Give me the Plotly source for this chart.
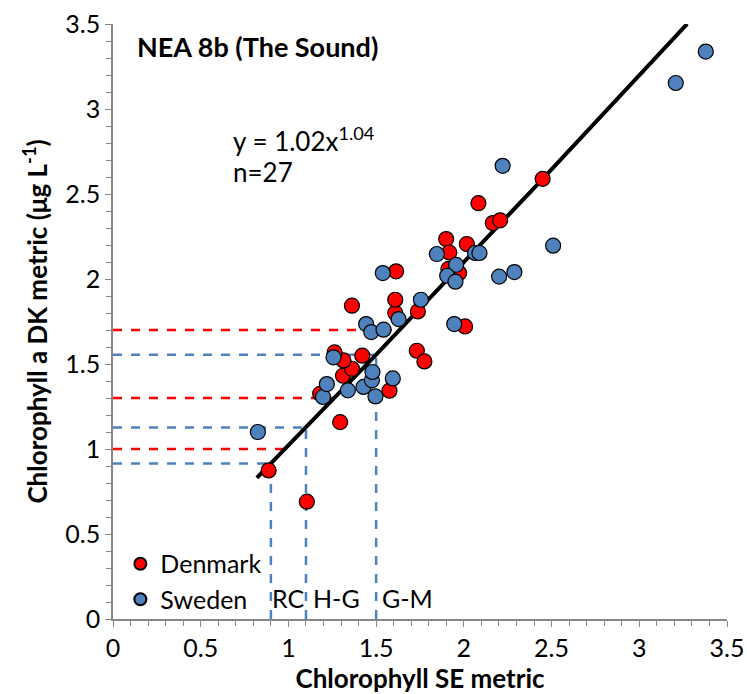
import plotly.graph_objects as go
import numpy as np

# Denmark (red) points: Chlorophyll SE metric (x), DK metric (y)
dk_x = [0.887, 1.105, 1.295, 1.181, 1.311, 1.362, 1.314, 1.263, 1.421, 1.362,
        1.576, 1.609, 1.609, 1.614, 1.738, 1.732, 1.775, 1.899, 1.917, 2.017,
        1.912, 1.973, 2.083, 2.165, 2.207, 2.449, 2.007]
dk_y = [0.874, 0.690, 1.158, 1.325, 1.431, 1.472, 1.521, 1.568, 1.549, 1.843,
        1.343, 1.800, 1.878, 2.045, 1.809, 1.578, 1.515, 2.235, 2.156, 2.206,
        2.059, 2.035, 2.446, 2.329, 2.345, 2.589, 1.721]

# Sweden (blue) points
se_x = [0.826, 1.197, 1.219, 1.257, 1.339, 1.428, 1.476, 1.479, 1.496, 1.595,
        1.443, 1.472, 1.542, 1.628, 1.755, 1.538, 1.945, 1.846, 2.064, 2.089,
        1.956, 1.905, 1.952, 2.201, 2.288, 2.221, 2.509, 3.208, 3.379]
se_y = [1.100, 1.306, 1.382, 1.539, 1.345, 1.365, 1.404, 1.453, 1.309, 1.415,
        1.735, 1.688, 1.702, 1.764, 1.878, 2.035, 1.735, 2.147, 2.153, 2.153,
        2.083, 2.019, 1.984, 2.014, 2.041, 2.666, 2.196, 3.153, 3.338]

# Power fit y = a * x^b
fit_a = 1.02
fit_b = 1.04
fit_x_range = [0.82, 3.273]

# Class boundaries
se_bounds = [0.9, 1.1, 1.5]          # SE metric boundaries (vertical)
dk_bounds = [1.0, 1.3, 1.7]          # DK metric boundaries (horizontal)
region_labels = ["RC", "H-G", "G-M"]
region_label_x = [0.999, 1.276, 1.677]

x_ticks = [0, 0.5, 1, 1.5, 2, 2.5, 3, 3.5]
y_ticks = [0, 0.5, 1, 1.5, 2, 2.5, 3, 3.5]

RED = "#FF0000"
BLUE = "#4F81BD"
BLUE_DASH = "#4F81BD"
FONT = "Lato"
FS = 25


def fit(x):
    return fit_a * np.power(x, fit_b)


def inv_fit(y):
    return np.power(y / fit_a, 1.0 / fit_b)


fig = go.Figure()

# Red horizontal dashed lines (DK boundaries) to the fit line
for yb in dk_bounds:
    fig.add_trace(go.Scatter(x=[0, inv_fit(yb)], y=[yb, yb], mode="lines",
                             line=dict(color=RED, width=2.5, dash="dash"),
                             showlegend=False, hoverinfo="skip"))

# Blue dashed lines (SE boundaries)
for xb in se_bounds:
    yv = fit(xb)
    fig.add_trace(go.Scatter(x=[0, xb], y=[yv, yv], mode="lines",
                             line=dict(color=BLUE_DASH, width=2.5, dash="dash"),
                             showlegend=False, hoverinfo="skip"))
    fig.add_trace(go.Scatter(x=[xb, xb], y=[0, yv], mode="lines",
                             line=dict(color=BLUE_DASH, width=2.5, dash="dash"),
                             showlegend=False, hoverinfo="skip"))

# Fit line
fx = np.linspace(fit_x_range[0], fit_x_range[1], 60)
fig.add_trace(go.Scatter(x=fx, y=fit(fx), mode="lines",
                         line=dict(color="black", width=4),
                         showlegend=False, hoverinfo="skip"))

fig.add_trace(go.Scatter(x=dk_x, y=dk_y, mode="markers", name="Denmark",
                         marker=dict(color=RED, size=15,
                                     line=dict(color="black", width=1.2))))
fig.add_trace(go.Scatter(x=se_x, y=se_y, mode="markers", name="Sweden",
                         marker=dict(color=BLUE, size=15,
                                     line=dict(color="black", width=1.2))))

annotations = [
    dict(x=0.127, y=3.366, xref="x", yref="y", text="<b>NEA 8b (The Sound)</b>",
         showarrow=False, xanchor="left", yanchor="middle",
         font=dict(size=27, color="black", family=FONT)),
    dict(x=0.674, y=2.82, xref="x", yref="y", text="y = 1.02x<sup>1.04</sup>",
         showarrow=False, xanchor="left", yanchor="middle",
         font=dict(size=26, color="black", family=FONT)),
    dict(x=0.674, y=2.63, xref="x", yref="y", text="n=27",
         showarrow=False, xanchor="left", yanchor="middle",
         font=dict(size=26, color="black", family=FONT)),
]
for lab, lx in zip(region_labels, region_label_x):
    annotations.append(dict(x=lx, y=0.124, xref="x", yref="y", text=lab,
                            showarrow=False, xanchor="center", yanchor="middle",
                            font=dict(size=FS, color="black", family=FONT)))

axis_common = dict(
    range=[0, 3.5], showgrid=False, zeroline=False, automargin=False,
    showline=True, linecolor="#868686", linewidth=1.5,
    ticks="outside", ticklen=6, tickcolor="#868686", tickwidth=1.2,
    tickfont=dict(size=FS, color="black", family=FONT),
    minor=dict(ticks="outside", ticklen=5, tickcolor="#868686", dtick=0.1,
               tickwidth=1),
)

fig.update_layout(
    width=747, height=694,
    margin=dict(l=113, r=20, t=24, b=75),
    plot_bgcolor="white", paper_bgcolor="white",
    font=dict(family=FONT, color="black"),
    xaxis=dict(**axis_common, tickvals=x_ticks,
               ticktext=[f"{v:g}" for v in x_ticks],
               title=dict(text="<b>Chlorophyll SE metric</b>", standoff=0,
                          font=dict(size=26, family=FONT, color="black"))),
    yaxis=dict(**axis_common, tickvals=y_ticks,
               ticktext=[f"{v:g}" for v in y_ticks],
               title=dict(text="<b>Chlorophyll a DK metric (μg L<sup>-1</sup>)</b>",
                          standoff=10,
                          font=dict(size=26, family=FONT, color="black"))),
    legend=dict(x=0.012, y=-0.005, xanchor="left", yanchor="bottom",
                bgcolor="rgba(0,0,0,0)", font=dict(size=FS, family=FONT),
                itemsizing="constant", tracegroupgap=0),
    annotations=annotations,
    showlegend=True,
)

# Remove the browser's default body margin so the figure sits at the window origin
fig.write_html("out.html",
               config={"displayModeBar": False},
               post_script="document.body.style.margin='0';"
                           "document.body.style.overflow='hidden';")
